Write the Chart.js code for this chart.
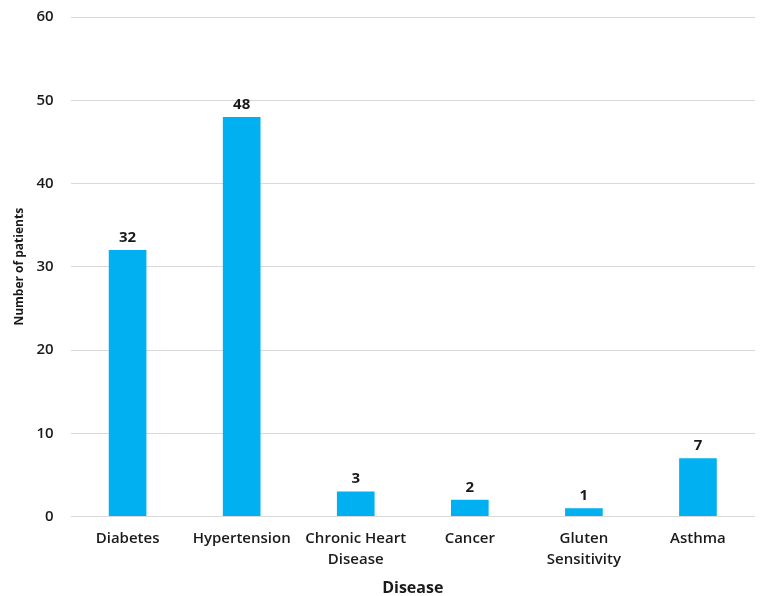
<!DOCTYPE html>
<html>
<head>
<meta charset="utf-8">
<script src="https://cdn.jsdelivr.net/npm/chart.js@4"></script>
<style>
	html, body { margin: 0; padding: 0; background: #fff; }
	#wrap { width: 768px; height: 596px; }
</style>
</head>
<body>
<div id="wrap"><canvas id="myChart"></canvas></div>
<script>
const diseases = [
	"Diabetes",
	"Hypertension",
	["Chronic Heart", "Disease"],
	"Cancer",
	["Gluten", "Sensitivity"],
	"Asthma",
];
const patients = [32, 48, 3, 2, 1, 7];
const yTicks = [0, 10, 20, 30, 40, 50, 60];

const fontFamily = "'Open Sans', sans-serif";

// draws the value above each bar
const valueLabels = {
	id: "valueLabels",
	afterDatasetsDraw(chart) {
		const ctx = chart.ctx;
		const meta = chart.getDatasetMeta(0);
		ctx.save();
		ctx.font = "bold 15px " + fontFamily;
		ctx.fillStyle = "#1a1a1a";
		ctx.textAlign = "center";
		ctx.textBaseline = "bottom";
		meta.data.forEach((bar, i) => {
			ctx.fillText(patients[i], bar.x, bar.y - 5);
		});
		ctx.restore();
	},
};

new Chart(document.getElementById("myChart"), {
	type: "bar",
	data: {
		labels: diseases,
		datasets: [{
			data: patients,
			backgroundColor: "#00B0F0",
			barPercentage: 0.66,
			categoryPercentage: 0.5,
		}],
	},
	options: {
		responsive: true,
		maintainAspectRatio: false,
		animation: false,
		layout: {
			padding: { top: 0, right: 13, left: 12, bottom: 0 },
		},
		plugins: {
			legend: { display: false },
			tooltip: { enabled: false },
		},
		scales: {
			x: {
				grid: { display: false },
				border: { display: false },
				ticks: {
					color: "#1a1a1a",
					font: { family: fontFamily, size: 15, weight: "600", lineHeight: 1.45 },
					maxRotation: 0,
					autoSkip: false,
					padding: 3,
				},
				title: {
					display: true,
					text: "Disease",
					color: "#1a1a1a",
					font: { family: fontFamily, size: 16, weight: "bold", lineHeight: 1.0 },
					padding: { top: 6, bottom: 0 },
				},
			},
			y: {
				min: 0,
				max: 60,
				afterBuildTicks: (axis) => {
					axis.ticks = yTicks.map((v) => ({ value: v }));
				},
				grid: {
					color: "#d9d9d9",
					lineWidth: 1,
					drawTicks: true,
					tickLength: 9,
					tickColor: "rgba(0,0,0,0)",
				},
				border: { display: false },
				ticks: {
					color: "#1a1a1a",
					font: { family: fontFamily, size: 15, weight: "600" },
					padding: 8,
				},
				title: {
					display: true,
					text: "Number of patients",
					color: "#1a1a1a",
					font: { family: fontFamily, size: 12, weight: "bold" },
					padding: { top: 0, bottom: 2 },
				},
			},
		},
	},
	plugins: [valueLabels],
});
</script>
</body>
</html>
